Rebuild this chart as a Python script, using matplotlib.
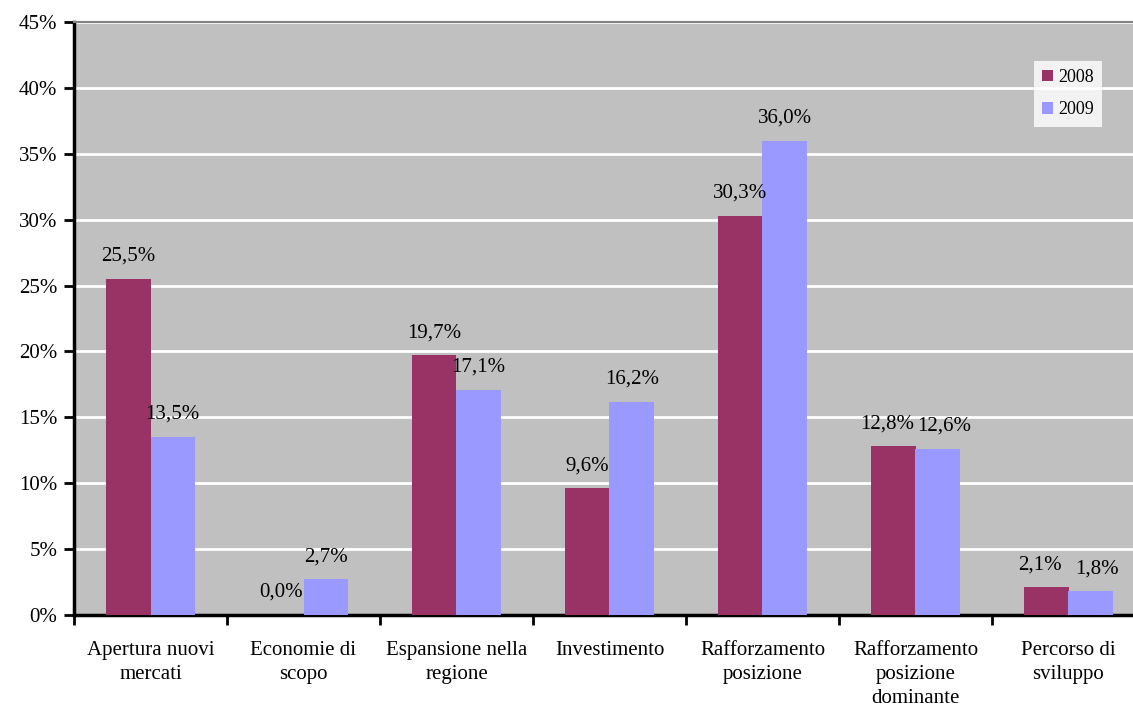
import numpy as np
import matplotlib.pyplot as plt
from matplotlib.ticker import FuncFormatter, FixedLocator

categorie = ["Apertura nuovi\nmercati", "Economie di\nscopo", "Espansione nella\nregione",
             "Investimento", "Rafforzamento\nposizione", "Rafforzamento\nposizione\ndominante",
             "Percorso di\nsviluppo"]
val_2008 = [25.5, 0.0, 19.7, 9.6, 30.3, 12.8, 2.1]
val_2009 = [13.5, 2.7, 17.1, 16.2, 36.0, 12.6, 1.8]

plt.rcParams['font.family'] = ['Liberation Serif', 'DejaVu Serif']

fig = plt.figure(figsize=(11.33, 7.06), dpi=100)
ax = fig.add_axes([74 / 1133, 1 - 615 / 706, 1071 / 1133, (615 - 22) / 706])
ax.set_facecolor('#C0C0C0')

x = np.arange(len(categorie))
w = 0.29
b1 = ax.bar(x - w / 2, val_2008, w, color='#993366', label='2008', zorder=3)
b2 = ax.bar(x + w / 2, val_2009, w, color='#9999FF', label='2009', zorder=3)

def fmt(v):
    return f"{v:.1f}%".replace('.', ',')

# labels of nearly equal bars are pushed apart a little
for i in range(len(categorie)):
    a, b = val_2008[i], val_2009[i]
    dx = 0.04 if abs(a - b) < 1 else 0.0
    ax.text(x[i] - w / 2 - dx, a + 1.0, fmt(a), ha='center', va='bottom', fontsize=15)
    ax.text(x[i] + w / 2 + dx, b + 1.0, fmt(b), ha='center', va='bottom', fontsize=15)

ax.set_xlim(-0.5, len(categorie) - 0.5)
ax.set_ylim(0, 45)
ax.set_yticks(np.arange(0, 46, 5))
ax.yaxis.set_major_formatter(FuncFormatter(lambda v, p: f"{v:.0f}%"))
ax.yaxis.grid(True, color='white', linewidth=2, zorder=0)
ax.set_axisbelow(True)

# category labels centred, ticks on the boundaries
ax.set_xticks(x)
ax.set_xticklabels(categorie, fontsize=15, linespacing=1.35)
ax.tick_params(axis='x', length=0, pad=19)
ax.xaxis.set_minor_locator(FixedLocator(np.arange(-0.5, len(categorie), 1)))
ax.tick_params(axis='x', which='minor', length=7, width=2, direction='out')
ax.tick_params(axis='y', length=7, width=2, direction='out', labelsize=15, pad=5)

for s in ('left', 'bottom'):
    ax.spines[s].set_linewidth(2.5)
    ax.spines[s].set_color('black')
ax.spines['top'].set_color('#808080')
ax.spines['top'].set_linewidth(1.5)
ax.spines['right'].set_visible(False)

leg = ax.legend(loc='upper left', bbox_to_anchor=((1034 - 74) / 1071, 1 - (61 - 22) / 593),
                fontsize=13, frameon=True, fancybox=False, handlelength=0.6,
                handleheight=0.6, handletextpad=0.3, labelspacing=0.85,
                borderpad=0.45, borderaxespad=0)
leg.get_frame().set_edgecolor('white')
leg.get_frame().set_facecolor('white')
leg.get_frame().set_linewidth(0)

fig.savefig('out.png', dpi=100)
